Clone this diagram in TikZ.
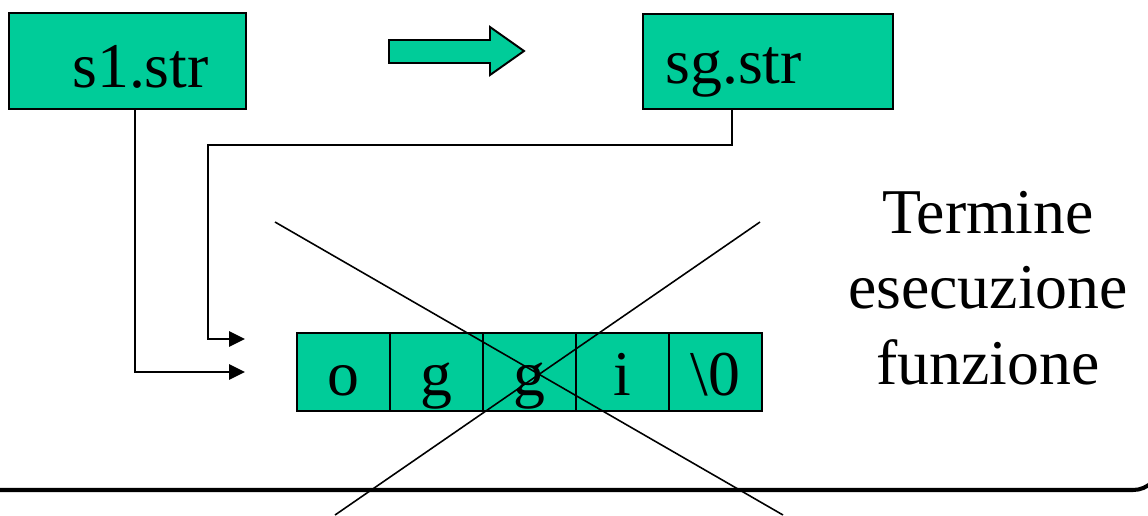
\documentclass[tikz,border=0pt]{standalone}
\usepackage{fontspec}
\setmainfont{Liberation Serif}
\usetikzlibrary{arrows.meta}
\definecolor{tealgreen}{RGB}{0,204,153}
\begin{document}
\begin{tikzpicture}[x=0.02cm,y=-0.02cm,
  box/.style={draw=black, line width=1.1pt, fill=tealgreen, inner sep=0pt},
  lbl/.style={font=\fontsize{36.3}{44}\selectfont, inner sep=0pt},
  cell/.style={box, font=\fontsize{36.3}{44}\selectfont, minimum width=1.86cm, minimum height=1.56cm, text height=0.92cm, text depth=0cm},
  conn/.style={line width=1.4pt, -{Triangle[length=9pt,width=8.5pt]}},
  cross/.style={line width=0.9pt},
]
\useasboundingbox (0,0) rectangle (1148,515);
\clip (0,0) rectangle (1148,515);

% pointer boxes
\node[box, minimum width=4.74cm, minimum height=1.92cm] (s1) at (127.5,61) {};
\node[lbl, anchor=base west] (s1t) at (72,87) {s1.str};
\node[box, minimum width=5.0cm, minimum height=1.9cm] (sg) at (768,61.5) {};
\node[lbl, anchor=base west] (sgt) at (665,83) {sg.str};

% block arrow
\draw[line width=1.1pt, fill=tealgreen] (389,40) -- (490,40) -- (490,27) -- (524,51)
  -- (490,75) -- (490,63) -- (389,63) -- cycle;

% array cells
\foreach \cx/\t [count=\k] in {343.5/o, 436.5/g, 529.5/g, 622.5/i, 715.5/\textbackslash 0}
  \node[cell] (c\k) at (\cx,372) {\t};

% connectors
\coordinate (e1) at (245,372);
\coordinate (e2) at (245,339);
\draw[conn] (s1.south) ++(7.5,0) |- (e1);
\draw[conn] (sg.south) ++(-36,0) |- (208,145) |- (e2);

% cross
\draw[cross] (275,222) -- (783,515);
\draw[cross] (760,222) -- (335,515);

% bottom frame line
\draw[line width=2.3pt, rounded corners=0.54cm] (-10,490) -- (1160,490) -- (1160,300);

% text
\node[lbl, anchor=base] (t1) at (988,233) {Termine};
\node[lbl, anchor=base] (t2) at (988,308) {esecuzione};
\node[lbl, anchor=base] (t3) at (988,384) {funzione};
\end{tikzpicture}
\end{document}
